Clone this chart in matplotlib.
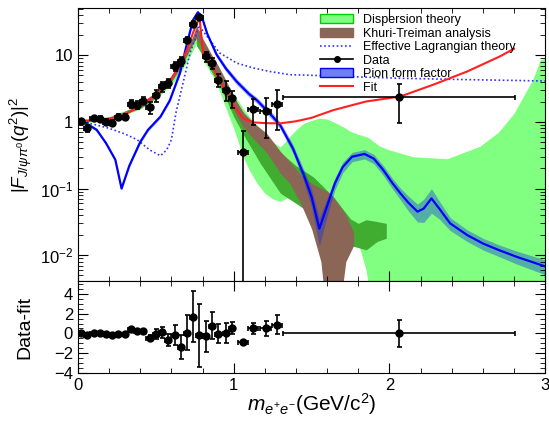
import numpy as np
import matplotlib
matplotlib.use("Agg")
import matplotlib.pyplot as plt
from matplotlib.patches import Patch
from matplotlib.lines import Line2D

plt.rcParams['font.family'] = ['Liberation Sans', 'DejaVu Sans']
plt.rcParams['mathtext.fontset'] = 'custom'
plt.rcParams['mathtext.rm'] = 'Liberation Sans'
plt.rcParams['mathtext.it'] = 'Liberation Sans:italic'

# measured |F|^2 points
data_x = [0.02, 0.06, 0.10, 0.14, 0.18, 0.22, 0.26, 0.30, 0.34, 0.38, 0.42, 0.46, 0.50,
          0.54, 0.58, 0.62, 0.66, 0.70, 0.74, 0.78, 0.82, 0.86, 0.90, 0.95, 0.99,
          1.06, 1.126, 1.205, 1.28, 2.064]
data_xerr = [0.02] * 25 + [0.033, 0.033, 0.033, 0.033, 0.745]
data_y = [1.03, 0.80, 1.14, 1.11, 0.99, 0.955, 1.20, 1.20, 1.85, 1.80, 2.09, 1.66, 2.49,
          3.39, 3.81, 6.8, 8.08, 17.1, 29.7, 37.5, 9.6, 7.6, 4.28, 3.03, 2.27,
          0.358, 1.55, 1.43, 1.86, 2.35]
data_err = [0.08, 0.1, 0.1, 0.1, 0.1, 0.1, 0.12, 0.12, 0.25, 0.25, 0.25, 0.35, 0.5,
            0.6, 0.6, 1.0, 1.2, 1.8, 2.6, 3.2, 1.6, 1.4, 1.0, 1.0, 0.65,
            0.36, 0.65, 0.85, 1.1, 1.4]

# data minus fit
res_y = [0.0, -0.2, 0.07, 0.03, -0.07, -0.14, -0.03, -0.03, 0.4, 0.24, 0.2, -0.5, -0.07,
         0.1, -0.7, -0.17, -1.4, 0.07, 1.7, -0.2, -0.3, 0.8, -0.03, 0.03, 0.55,
         -0.9, 0.5, 0.5, 0.9, 0.0]
res_err = [0.08, 0.1, 0.1, 0.1, 0.1, 0.1, 0.12, 0.12, 0.25, 0.25, 0.25, 0.3, 0.5,
           0.6, 0.6, 1.0, 1.2, 1.8, 2.6, 3.2, 1.6, 1.4, 1.0, 1.0, 0.6,
           0.25, 0.6, 0.8, 1.0, 1.4]

# fit curve
fit_x = [0.0, 0.1, 0.2, 0.3, 0.4, 0.5, 0.55, 0.6, 0.65, 0.7, 0.74, 0.78, 0.805, 0.83,
         0.86, 0.9, 0.95, 1.0, 1.06, 1.13, 1.21, 1.3, 1.4, 1.5, 1.64, 1.85, 2.07,
         2.28, 2.5, 2.71, 2.8]
fit_y = [1.02, 1.05, 1.12, 1.28, 1.75, 2.6, 3.4, 4.5, 6.8, 12.0, 22.0, 37.0, 10.2, 9.6,
         7.0, 4.5, 2.85, 1.75, 1.14, 0.98, 0.955, 0.95, 1.02, 1.15, 1.5, 2.02, 2.4,
         3.6, 5.7, 9.6, 12.5]

# pion form factor prediction and its relative uncertainty
pion_x = [0.0, 0.06, 0.12, 0.18, 0.24, 0.28, 0.33, 0.40, 0.45, 0.53, 0.59, 0.655, 0.70,
          0.74, 0.77, 0.795, 0.83, 0.89, 0.95, 1.02, 1.1, 1.15, 1.25, 1.3, 1.38, 1.45,
          1.5, 1.55, 1.6, 1.65, 1.7, 1.76, 1.84, 1.9, 1.96, 2.02, 2.07, 2.12, 2.18,
          2.22, 2.27, 2.32, 2.39, 2.5, 2.6, 2.7, 2.82, 3.0]
pion_y = [1.0, 0.93, 0.76, 0.48, 0.27, 0.1, 0.22, 0.5, 0.76, 1.2, 2.1, 5.4, 15.0,
          34.0, 44.0, 38.0, 21.0, 10.2, 6.3, 4.0, 2.6, 2.1, 1.2, 0.88, 0.40, 0.16,
          0.075, 0.025, 0.055, 0.12, 0.21, 0.30, 0.33, 0.28, 0.19, 0.12, 0.085, 0.062,
          0.045, 0.05, 0.071, 0.05, 0.03, 0.02, 0.015, 0.012, 0.0094, 0.0068]
pion_rel = [0.05, 0.05, 0.05, 0.05, 0.05, 0.05, 0.05, 0.05, 0.05, 0.05, 0.05, 0.05, 0.05,
            0.05, 0.05, 0.05, 0.05, 0.08, 0.1, 0.1, 0.1, 0.1, 0.12, 0.12, 0.15, 0.2,
            0.3, 0.45, 0.3, 0.2, 0.18, 0.16, 0.16, 0.16, 0.17, 0.18, 0.2, 0.25, 0.3,
            0.38, 0.4, 0.3, 0.22, 0.2, 0.2, 0.2, 0.22, 0.25]

# effective Lagrangian prediction
efl_x = [0.0, 0.1, 0.2, 0.3, 0.38, 0.46, 0.53, 0.57, 0.6, 0.63, 0.68, 0.72, 0.75, 0.775,
         0.83, 0.91, 1.02, 1.13, 1.23, 1.36, 1.6, 2.07, 2.5, 3.0]
efl_y = [1.0, 0.92, 0.80, 0.66, 0.54, 0.38, 0.31, 0.38, 0.54, 1.4, 4.3, 10.8, 17.0, 28.0,
         19.0, 10.8, 7.6, 6.4, 5.7, 5.1, 4.9, 4.5, 4.3, 4.1]

# dispersion theory band
disp_x = [0.0, 0.2, 0.4, 0.5, 0.6, 0.65, 0.7, 0.74, 0.76, 0.78, 0.8, 0.85, 0.88, 0.9,
          0.95, 1.0, 1.06, 1.1, 1.15, 1.2, 1.25, 1.3, 1.36, 1.4, 1.45, 1.5, 1.55, 1.6,
          1.64, 1.7, 1.75, 1.8, 1.85, 1.87, 1.9, 1.94, 2.0, 2.15, 2.37, 2.58, 2.7, 2.8,
          2.92, 2.97, 3.0]
disp_hi = [1.1, 1.2, 1.8, 2.5, 4.4, 6.5, 11.0, 17.0, 22.0, 18.0, 14.0, 9.0, 7.0, 6.0,
           4.0, 2.6, 1.6, 1.2, 0.9, 0.65, 0.5, 0.42, 0.6, 0.76, 0.95, 1.05, 1.14, 1.1,
           1.0, 0.85, 0.72, 0.65, 0.6, 0.57, 0.5, 0.43, 0.38, 0.30, 0.28, 0.43, 0.7,
           1.35, 4.3, 8.6, 9.0]
disp_lo = [0.95, 1.05, 1.55, 2.2, 3.6, 5.0, 8.0, 12.0, 15.0, 13.0, 9.0, 5.5, 4.3, 3.3,
           1.6, 0.8, 0.3, 0.19, 0.12, 0.085, 0.07, 0.064, 0.076, 0.09, 0.1, 0.12, 0.12,
           0.09, 0.065, 0.04, 0.025, 0.015, 0.006, 0.003, 0.001, 0.001, 0.001, 0.001,
           0.001, 0.001, 0.001, 0.001, 0.001, 0.001, 0.001]

# inner dispersion band
disp2_x = [0.76, 0.8, 0.85, 0.9, 0.95, 1.0, 1.07, 1.17, 1.3, 1.4, 1.51, 1.575, 1.65,
           1.75, 1.8, 1.85, 1.92, 1.98]
disp2_hi = [20.0, 14.0, 8.0, 5.5, 3.5, 2.3, 1.3, 0.75, 0.35, 0.22, 0.15, 0.107, 0.07,
            0.035, 0.03, 0.034, 0.032, 0.030]
disp2_lo = [14.0, 10.0, 6.0, 3.8, 2.2, 1.2, 0.6, 0.24, 0.085, 0.06, 0.04, 0.03, 0.02,
            0.014, 0.013, 0.012, 0.016, 0.018]

# Khuri-Treiman band
kt_x = [0.0, 0.2, 0.4, 0.5, 0.6, 0.65, 0.7, 0.74, 0.76, 0.78, 0.8, 0.85, 0.9, 0.95,
        1.0, 1.06, 1.13, 1.21, 1.3, 1.36, 1.43, 1.5, 1.56, 1.6, 1.63, 1.67, 1.72, 1.77]
kt_hi = [1.06, 1.16, 1.8, 2.6, 4.6, 7.0, 12.0, 20.0, 27.0, 23.0, 18.0, 11.0, 7.0, 4.2,
         2.4, 1.4, 0.95, 0.68, 0.36, 0.25, 0.16, 0.12, 0.1, 0.09, 0.08, 0.06, 0.04, 0.022]
kt_lo = [0.98, 1.08, 1.6, 2.3, 4.0, 6.0, 10.0, 15.0, 18.0, 15.0, 12.0, 7.5, 4.5, 2.7,
         1.5, 0.85, 0.55, 0.35, 0.17, 0.12, 0.06, 0.025, 0.008, 0.001, 0.001, 0.001,
         0.008, 0.014]

fig = plt.figure(figsize=(5.49, 4.21), dpi=100)
ax = fig.add_axes([0.142, 0.3325, 0.851, 0.6485])
axr = fig.add_axes([0.142, 0.114, 0.851, 0.2185], sharex=ax)

ax.fill_between(disp_x, disp_lo, disp_hi, color='#80ff80', lw=0)
ax.fill_between(disp2_x, disp2_lo, disp2_hi, color='#40ac30', lw=0)
ax.fill_between(kt_x, kt_lo, kt_hi, color='#8b6555', lw=0)
ax.plot(efl_x, efl_y, ls=(0, (1, 1.5)), color='#3030ff', lw=1.2)

pion_y = np.array(pion_y)
pion_rel = np.array(pion_rel)
ax.fill_between(pion_x, pion_y * (1 - pion_rel), pion_y * (1 + pion_rel),
                color='#0a2ee6', alpha=0.38, lw=0)
ax.plot(pion_x, pion_y, color='#0000ff', lw=1.6)
ax.plot(fit_x, fit_y, color='#ff2020', lw=1.5)

ax.errorbar(data_x, data_y, xerr=data_xerr, yerr=data_err, fmt='o', color='black',
            ms=5, elinewidth=1.2, capsize=1.8, capthick=1.2)

ax.set_yscale('log')
ax.set_ylim(4.1e-3, 51)
ax.set_xlim(0, 3)
ax.set_ylabel(r'$|F_{J/\psi\pi^0}(q^2)|^2$', fontsize=13.5)
ax.yaxis.set_label_coords(-0.095, 0.5)
ax.set_yticks([0.01, 0.1, 1, 10])
ax.set_yticklabels([r'$10^{-2}$', r'$10^{-1}$', '1', '10'])
ax.tick_params(labelbottom=False)

axr.errorbar(data_x, res_y, xerr=data_xerr, yerr=res_err, fmt='o', color='black',
             ms=5, elinewidth=1.2, capsize=1.8, capthick=1.2)
axr.set_ylim(-4.05, 5.35)
axr.set_yticks([-4, -2, 0, 2, 4])
axr.set_yticklabels(['\u22124', '\u22122', '0', '2', '4'])
axr.set_xticks([0, 1, 2, 3])
axr.set_ylabel('Data-fit', fontsize=14)
axr.yaxis.set_label_coords(-0.095, 0.5)
axr.set_xlabel(r'$m_{e^{+}e^{-}}$(GeV/c$^{2}$)', fontsize=15)
axr.xaxis.set_label_coords(0.5, -0.2)

for a in (ax, axr):
    a.tick_params(which='both', direction='in', top=True, right=True, labelsize=12)
    a.tick_params(which='major', length=7)
    a.tick_params(which='minor', length=3.5)
    a.xaxis.set_minor_locator(matplotlib.ticker.MultipleLocator(0.2))
axr.yaxis.set_minor_locator(matplotlib.ticker.MultipleLocator(0.5))

handles = [Patch(facecolor='#80ff80', edgecolor='#00cc00'),
           Patch(facecolor='#8b6555', edgecolor='#8b6555'),
           Line2D([], [], ls=(0, (1, 1.5)), color='#3030ff', lw=1.2),
           Line2D([], [], color='black', marker='o', ms=4, lw=1.2),
           Patch(facecolor='#7080f0', edgecolor='#0000ff'),
           Line2D([], [], color='#ff2020', lw=1.5)]
labels = ['Dispersion theory', 'Khuri-Treiman analysis', 'Effective Lagrangian theory',
          'Data', 'Pion form factor', 'Fit']
ax.legend(handles, labels, loc='upper left', bbox_to_anchor=(0.5, 1.01), frameon=False,
          fontsize=9, handlelength=2.6, labelspacing=0.12, borderpad=0.2,
          handletextpad=0.8)

fig.savefig('out.png', dpi=100)
